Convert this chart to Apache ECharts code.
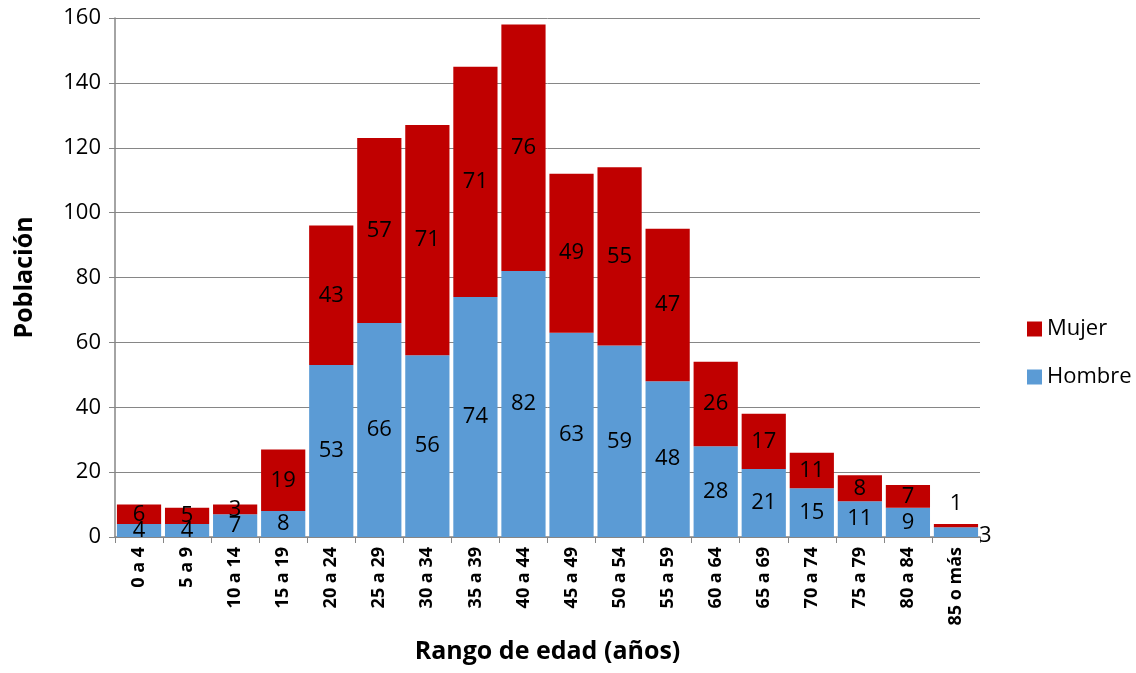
<!DOCTYPE html>
<html><head><meta charset="utf-8">
<script src="https://cdn.jsdelivr.net/npm/echarts@6/dist/echarts.min.js"></script>
<style>html,body{margin:0;padding:0;background:#fff}#c{width:1136px;height:673px}</style>
</head><body><div id="c"></div>
<script>
const categories = ['0 a 4','5 a 9','10 a 14','15 a 19','20 a 24','25 a 29','30 a 34','35 a 39','40 a 44','45 a 49','50 a 54','55 a 59','60 a 64','65 a 69','70 a 74','75 a 79','80 a 84','85 o más'];
const hombre = [4,4,7,8,53,66,56,74,82,63,59,48,28,21,15,11,9,3];
const mujer = [6,5,3,19,43,57,71,71,76,49,55,47,26,17,11,8,7,1];
const yTicks = [0,20,40,60,80,100,120,140,160];

const FONT = '"Open Sans", "Liberation Sans", sans-serif';
const last = categories.length - 1;
const hData = hombre.map((v,i)=> i===last ? {value:v,label:{position:'right',offset:[-4,4]}} : v);
const mData = mujer.map((v,i)=> i===last ? {value:v,label:{position:'top',offset:[0,-4]}} : v);

const chart = echarts.init(document.getElementById('c'));
chart.setOption({
  animation:false,
  textStyle:{fontFamily:FONT},
  grid:{left:115,right:156,top:18,bottom:136,containLabel:false,outerBoundsMode:'none'},
  legend:{
    orient:'vertical', left:1022, top:313, itemGap:26, itemWidth:15, itemHeight:15,
    data:['Mujer','Hombre'],
    textStyle:{fontSize:22,lineHeight:22,color:'#000',fontFamily:FONT},
    icon:'rect'
  },
  xAxis:{
    type:'category', data:categories,
    name:'Rango de edad (años)', nameLocation:'middle', nameGap:102,
    nameTextStyle:{fontSize:25,fontWeight:'bold',color:'#000',fontFamily:FONT},
    axisLine:{lineStyle:{color:'#868686',width:1.5}},
    axisTick:{show:true,length:6,lineStyle:{color:'#868686'}},
    axisLabel:{rotate:90,fontSize:18,fontWeight:'bold',color:'#000',margin:10,interval:0,fontFamily:FONT}
  },
  yAxis:{
    type:'value', min:yTicks[0], max:yTicks[yTicks.length-1], interval:20,
    name:'Población', nameLocation:'middle', nameGap:78,
    nameTextStyle:{fontSize:25,fontWeight:'bold',color:'#000',fontFamily:FONT},
    axisLine:{show:true,lineStyle:{color:'#868686',width:1.5}},
    axisTick:{show:true,length:6,lineStyle:{color:'#868686'}},
    splitLine:{lineStyle:{color:'#868686'}},
    axisLabel:{fontSize:22,color:'#000',margin:14,fontFamily:FONT}
  },
  series:[
    {name:'Hombre',type:'bar',stack:'t',data:hData,barCategoryGap:'8%',
     itemStyle:{color:'#5B9BD5'},
     label:{show:true,position:'inside',fontSize:22,color:'#000',fontFamily:FONT}},
    {name:'Mujer',type:'bar',stack:'t',data:mData,barCategoryGap:'8%',
     itemStyle:{color:'#C00000'},
     label:{show:true,position:'inside',fontSize:22,color:'#000',fontFamily:FONT}}
  ]
});
</script></body></html>
